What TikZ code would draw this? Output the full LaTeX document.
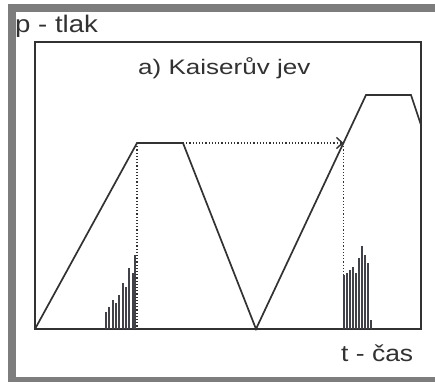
\documentclass[tikz,border=0pt]{standalone}
\usepackage{fontspec}
\setmainfont{Liberation Sans}
\newfontfamily\widesans[FakeStretch=1.15]{Liberation Sans}
\newfontfamily\titlesans[FakeStretch=1.24]{Liberation Sans}
\usetikzlibrary{arrows.meta}
\definecolor{framegray}{RGB}{125,125,125}
\definecolor{ink}{RGB}{50,50,50}
\definecolor{barink}{RGB}{65,65,72}
\tikzset{
  curve/.style={draw=ink, line width=1.7pt, line join=miter},
  guide/.style={draw=ink, line width=1.2pt, dotted},
  bar/.style={draw=barink, line width=2pt},
  lbl/.style={inner sep=0pt, anchor=base west, text=ink}
}
\begin{document}
\begin{tikzpicture}[x=1pt,y=-1pt]
\useasboundingbox (0,0) rectangle (435,382);
\fill[white] (0,0) rectangle (435,382);
% grey frame
\fill[framegray] (8,4) rectangle (435,382);
\fill[white] (16,12) rectangle (435,377);
% plot box
\draw[draw=ink, line width=1.2pt] (35,42) rectangle (421,329);
% texts
\node[lbl, font=\widesans\fontsize{24}{27}\selectfont] (p) at (15,33) {p - tlak};
\node[lbl, font=\titlesans\fontsize{21}{24}\selectfont] (title) at (138,75) {a) Kaiserův jev};
\node[lbl, font=\widesans\fontsize{23}{26}\selectfont] (t) at (341,361) {t - čas};
% curve
\coordinate (c0) at (35,329);
\coordinate (c1) at (137,143);
\coordinate (c2) at (183,143);
\coordinate (c3) at (256,329);
\coordinate (c4) at (366,95);
\coordinate (c5) at (411,95);
\coordinate (c6) at (421,125);
\coordinate (hit) at (343.5,143);
\coordinate (b1) at (137,329);
\coordinate (b2) at (343.5,329);
\draw[curve] (c0) -- (c1) -- (c2) -- (c3) -- (c4) -- (c5) -- (c6);
% guides
\draw[guide] (c1) -- (b1);
\draw[guide] (hit) -- (b2);
\draw[guide, -{Straight Barb[length=6pt,width=11pt,line width=1.4pt]}] (c2) -- (hit);
% left burst
\foreach \x/\h in {105.7/311.7, 109/306.7, 112.7/300, 116/303, 119.3/295, 122.7/283, 126/286.7, 129.3/268, 132.5/273, 135/255}
  \draw[bar] (\x,329) -- (\x,\h);
% right burst
\foreach \x/\h in {344/275, 347.3/273, 350.3/270, 353/267, 356/273, 359/258, 362.2/246, 365.3/255, 368.3/263, 371/320}
  \draw[bar] (\x,329) -- (\x,\h);
\end{tikzpicture}
\end{document}
